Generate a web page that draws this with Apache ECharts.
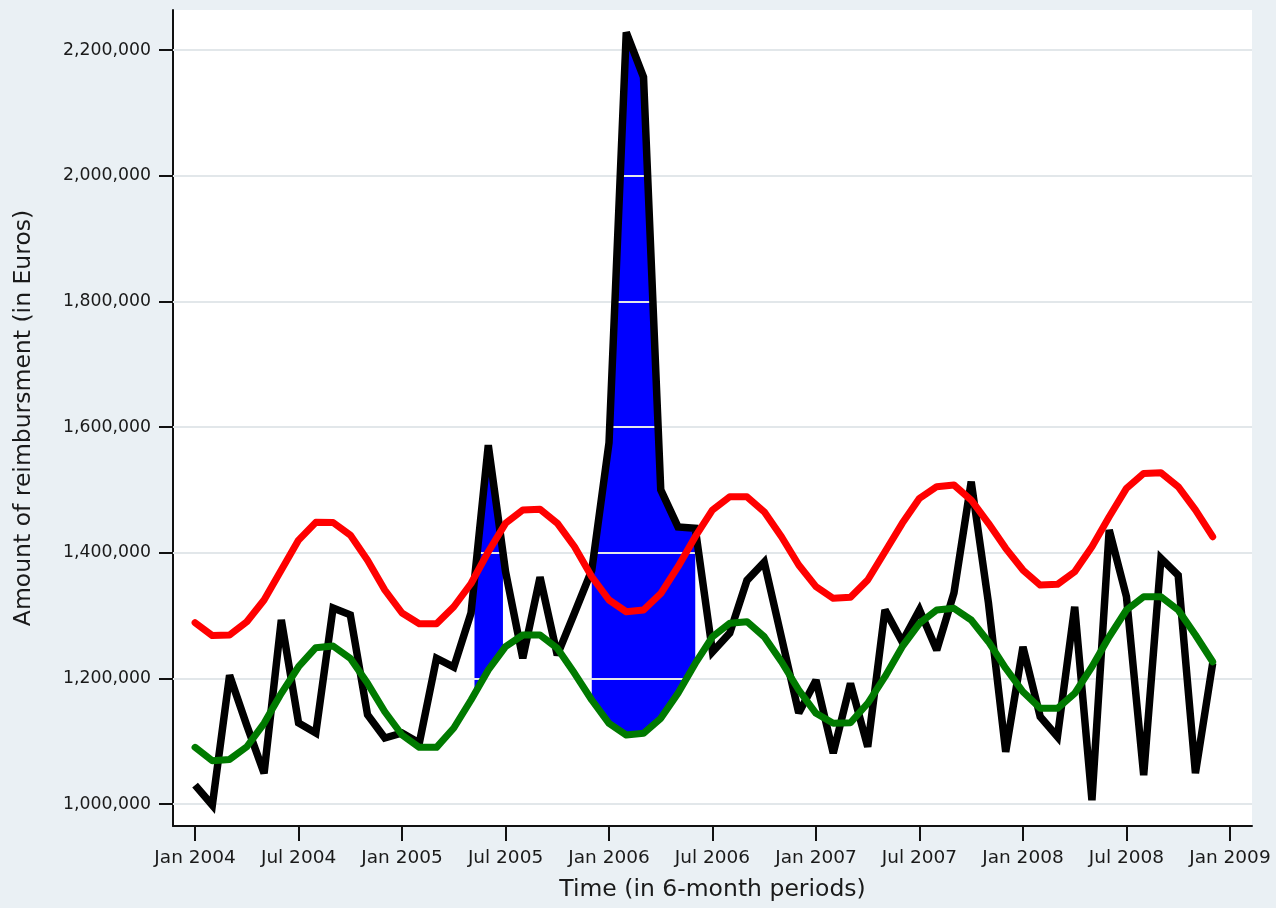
<!DOCTYPE html>
<html>
<head>
<meta charset="utf-8">
<script src="https://cdn.jsdelivr.net/npm/echarts@6/dist/echarts.min.js"></script>
<style>
  html, body { margin: 0; padding: 0; background: #eaf0f4; }
  #main { width: 1276px; height: 908px; }
</style>
</head>
<body>
<div id="main"></div>
<script>
// monthly values, Jan 2004 (index 0) .. Dec 2008 (index 59)
var observed = [1030000, 998000, 1205000, 1125000, 1049000, 1293000, 1129000, 1113000, 1312000, 1301000,
  1142000, 1105000, 1113000, 1097000, 1232000, 1218000, 1304000, 1571000, 1370000, 1232000,
  1361000, 1237000, 1304000, 1372000, 1575000, 2228000, 2157000, 1500000, 1441000, 1439000,
  1242000, 1272000, 1356000, 1385000, 1265000, 1145000, 1197000, 1081000, 1192000, 1091000,
  1309000, 1258000, 1309000, 1245000, 1336000, 1513000, 1320000, 1083000, 1250000, 1139000,
  1107000, 1314000, 1006000, 1436000, 1330000, 1046000, 1391000, 1364000, 1049000, 1224000];

var upperLimit = [1288600, 1268000, 1269000, 1290000, 1324700, 1372400, 1420000, 1448300, 1448000, 1428000,
  1388000, 1340600, 1304000, 1287000, 1287000, 1314000, 1351000, 1401500, 1446700, 1468000,
  1469000, 1447000, 1409500, 1361700, 1324700, 1306000, 1308800, 1335000, 1377700, 1425400,
  1468000, 1489000, 1489000, 1465000, 1425400, 1380400, 1346000, 1327400, 1329000, 1356500,
  1401500, 1446700, 1486500, 1505000, 1507700, 1483800, 1446700, 1406900, 1372400, 1348500,
  1349600, 1369700, 1409500, 1457200, 1502400, 1526200, 1527300, 1505000, 1468000, 1425400];

var baseline = [1090200, 1069000, 1071000, 1091200, 1128400, 1176200, 1218500, 1248800, 1251500, 1231900,
  1192100, 1146900, 1109800, 1090200, 1090200, 1121000, 1165500, 1213300, 1250400, 1269000,
  1269000, 1247800, 1208000, 1165500, 1128400, 1109800, 1112500, 1136400, 1176200, 1223800,
  1266200, 1287600, 1290200, 1266200, 1226400, 1181400, 1144300, 1128400, 1129400, 1160300,
  1202700, 1250400, 1287600, 1308800, 1311400, 1292900, 1258300, 1216000, 1178700, 1152300,
  1152300, 1176200, 1218500, 1266200, 1308800, 1330000, 1330000, 1308800, 1269000, 1226400];

// shaded alert periods (month index from..to)
var alertPeriods = [[16.2, 17.85], [23, 29]];

var xTickValues = [0, 6, 12, 18, 24, 30, 36, 42, 48, 54, 60];
var xTickLabels = ['Jan 2004', 'Jul 2004', 'Jan 2005', 'Jul 2005', 'Jan 2006', 'Jul 2006',
  'Jan 2007', 'Jul 2007', 'Jan 2008', 'Jul 2008', 'Jan 2009'];
var yTickValues = [1000000, 1200000, 1400000, 1600000, 1800000, 2000000, 2200000];

function pairs(arr) {
  return arr.map(function (v, i) { return [i, v]; });
}
function at(arr, t) {
  var i = Math.floor(t), f = t - i;
  if (i >= arr.length - 1) return arr[arr.length - 1];
  return arr[i] * (1 - f) + arr[i + 1] * f;
}

var myChart = echarts.init(document.getElementById('main'));
var fontFamily = '"DejaVu Sans", Verdana, sans-serif';

myChart.setOption({
  backgroundColor: '#eaf0f4',
  animation: false,
  grid: {
    left: 173, right: 24, top: 10, bottom: 82,
    show: true, backgroundColor: '#ffffff', borderWidth: 0,
    outerBoundsMode: 'none'
  },
  xAxis: {
    type: 'value',
    min: -1.28, max: 61.28,
    name: 'Time (in 6-month periods)',
    nameLocation: 'middle',
    nameGap: 52,
    nameTextStyle: { fontFamily: fontFamily, fontSize: 23.5, color: '#1a1a1a' },
    axisLine: { onZero: false, lineStyle: { color: '#111', width: 2 } },
    axisTick: { customValues: xTickValues, length: 15, lineStyle: { color: '#111', width: 2 } },
    axisLabel: {
      customValues: xTickValues,
      margin: 23,
      fontFamily: fontFamily, fontSize: 18.5, color: '#1a1a1a',
      formatter: function (v) { return xTickLabels[xTickValues.indexOf(v)]; }
    },
    splitLine: { show: false }
  },
  yAxis: {
    type: 'value',
    min: 965000, max: 2263700,
    name: 'Amount of reimbursment (in Euros)',
    nameLocation: 'middle',
    nameGap: 137,
    nameTextStyle: { fontFamily: fontFamily, fontSize: 23.5, color: '#1a1a1a' },
    axisLine: { show: true, onZero: false, lineStyle: { color: '#111', width: 2 } },
    axisTick: { show: true, customValues: yTickValues, length: 14, lineStyle: { color: '#111', width: 2 } },
    axisLabel: {
      customValues: yTickValues,
      margin: 22,
      fontFamily: fontFamily, fontSize: 17.3, color: '#1a1a1a',
      formatter: function (v) { return v.toLocaleString('en-US'); }
    },
    splitLine: { show: false }
  },
  series: [
    {
      type: 'custom',
      z: 2,
      clip: true,
      encode: { x: [0, 1] },
      data: alertPeriods,
      renderItem: function (params, api) {
        var a = api.value(0), b = api.value(1);
        var ts = [a];
        for (var k = Math.ceil(a); k < b; k++) { if (k > a) ts.push(k); }
        ts.push(b);
        var top = ts.map(function (t) { return api.coord([t, at(observed, t)]); });
        var bottom = ts.slice().reverse().map(function (t) { return api.coord([t, at(baseline, t)]); });
        return {
          type: 'polygon',
          shape: { points: top.concat(bottom) },
          style: { fill: '#0000ff' }
        };
      }
    },
    {
      // grid lines, drawn above the shading
      type: 'line',
      data: [],
      z: 3,
      markLine: {
        silent: true,
        symbol: 'none',
        label: { show: false },
        lineStyle: { color: '#e2e7ea', width: 2, type: 'solid' },
        data: yTickValues.map(function (v) { return { yAxis: v }; })
      }
    },
    {
      type: 'line',
      z: 10,
      data: pairs(observed),
      showSymbol: false,
      lineStyle: { color: '#000000', width: 7.5, join: 'miter', miterLimit: 2.5 }
    },
    {
      type: 'line',
      z: 11,
      data: pairs(upperLimit),
      showSymbol: false,
      lineStyle: { color: '#ff0000', width: 7, join: 'round', cap: 'round' }
    },
    {
      type: 'line',
      z: 12,
      data: pairs(baseline),
      showSymbol: false,
      lineStyle: { color: '#007a00', width: 7, join: 'round', cap: 'round' }
    }
  ]
});
</script>
</body>
</html>
